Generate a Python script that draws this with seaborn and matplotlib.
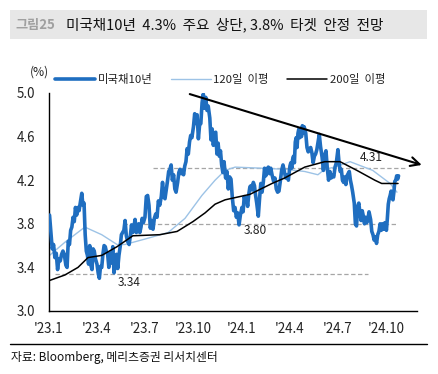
import numpy as np
import pandas as pd
import matplotlib
matplotlib.use("Agg")
import matplotlib.pyplot as plt
import matplotlib.dates as mdates
from matplotlib.lines import Line2D
from matplotlib.patches import Rectangle
import seaborn as sns

# ---------------- data ----------------
# US 10y yield (%), values per month, grouped by quarter
q2023_1 = [
    [3.88, 3.72, 3.57, 3.61, 3.49, 3.53, 3.38, 3.48, 3.46, 3.52, 3.55, 3.52],
    [3.42, 3.40, 3.64, 3.61, 3.74, 3.77, 3.86, 3.82, 3.95, 3.88, 3.95, 3.92],
    [4.01, 4.08, 3.97, 3.99, 3.70, 3.55, 3.51, 3.43, 3.60, 3.42, 3.38, 3.57, 3.55, 3.48],
]
q2023_2 = [
    [3.43, 3.35, 3.30, 3.41, 3.40, 3.52, 3.60, 3.59, 3.54, 3.52, 3.40, 3.53, 3.44],
    [3.59, 3.35, 3.44, 3.52, 3.39, 3.51, 3.59, 3.70, 3.72, 3.74, 3.83, 3.69, 3.64],
    [3.61, 3.69, 3.79, 3.72, 3.77, 3.84, 3.72, 3.73, 3.80, 3.72, 3.77, 3.85, 3.81],
]
q2023_3 = [
    [3.86, 4.05, 4.06, 3.97, 3.76, 3.83, 3.75, 3.85, 3.89, 3.86, 4.01, 3.97],
    [4.05, 4.18, 4.05, 4.03, 4.11, 4.19, 4.28, 4.30, 4.34, 4.20, 4.25, 4.12, 4.09],
    [4.18, 4.27, 4.30, 4.26, 4.29, 4.25, 4.33, 4.37, 4.49, 4.44, 4.55, 4.61, 4.59],
]
q2023_4 = [
    [4.69, 4.81, 4.72, 4.80, 4.58, 4.71, 4.72, 4.91, 4.99, 4.86, 4.96, 4.84, 4.88],
    [4.77, 4.57, 4.67, 4.52, 4.63, 4.64, 4.44, 4.54, 4.42, 4.47, 4.34, 4.27, 4.37],
    [4.22, 4.28, 4.12, 4.23, 4.21, 4.04, 3.92, 3.95, 3.86, 3.90, 3.79, 3.88],
]
q2024_1 = [
    [3.95, 3.91, 4.05, 4.01, 4.04, 3.96, 4.07, 4.14, 4.15, 4.11, 4.18, 4.15, 4.06, 3.99],
    [3.87, 4.03, 4.17, 4.09, 4.18, 4.31, 4.24, 4.30, 4.32, 4.26, 4.31, 4.25],
    [4.19, 4.22, 4.12, 4.09, 4.10, 4.19, 4.29, 4.34, 4.28, 4.22, 4.25, 4.20],
]
q2024_2 = [
    [4.33, 4.36, 4.31, 4.39, 4.42, 4.36, 4.55, 4.59, 4.50, 4.63, 4.67, 4.59, 4.64, 4.60, 4.70, 4.63, 4.69],
    [4.63, 4.50, 4.46, 4.49, 4.50, 4.45, 4.36, 4.42, 4.44, 4.48, 4.55, 4.62, 4.51],
    [4.41, 4.29, 4.43, 4.47, 4.31, 4.20, 4.28, 4.22, 4.25, 4.23, 4.32, 4.36],
]
q2024_3 = [
    [4.48, 4.36, 4.28, 4.30, 4.20, 4.18, 4.23, 4.16, 4.24, 4.26, 4.28, 4.20, 4.15, 4.09],
    [3.99, 3.80, 3.78, 3.96, 3.99, 3.90, 3.83, 3.92, 3.87, 3.80, 3.86, 3.81, 3.84, 3.91],
    [3.84, 3.73, 3.70, 3.65, 3.68, 3.62, 3.70, 3.73, 3.80, 3.74, 3.80, 3.75, 3.81],
]
q2024_4 = [
    [3.74, 3.85, 3.98, 4.03, 4.06, 4.10, 4.04, 4.02, 4.09, 4.19, 4.20, 4.24, 4.21, 4.24],
]

# 120-day moving average (read points)
ma120_dates = ["2023-01-02", "2023-01-31", "2023-03-10", "2023-04-11", "2023-05-10",
               "2023-05-25", "2023-07-02", "2023-08-15", "2023-09-16", "2023-10-18",
               "2023-11-12", "2023-12-01", "2023-12-20", "2024-02-09", "2024-03-23",
               "2024-04-30", "2024-05-25", "2024-06-07", "2024-06-26", "2024-07-25",
               "2024-09-06", "2024-10-09", "2024-10-22"]
ma120_vals = [3.51, 3.63, 3.77, 3.70, 3.61,
              3.61, 3.66, 3.72, 3.85, 4.06,
              4.20, 4.29, 4.32, 4.31, 4.30,
              4.28, 4.25, 4.30, 4.32, 4.37,
              4.29, 4.17, 4.09]

# 200-day moving average (read points)
ma200_dates = ["2023-01-02", "2023-01-31", "2023-02-25", "2023-03-16", "2023-04-11",
               "2023-05-10", "2023-06-09", "2023-07-30", "2023-09-01", "2023-10-01",
               "2023-10-24", "2023-11-12", "2023-12-01", "2024-01-17", "2024-02-28",
               "2024-03-23", "2024-04-30", "2024-06-07", "2024-07-06", "2024-08-07",
               "2024-09-10", "2024-09-23", "2024-10-24"]
ma200_vals = [3.28, 3.33, 3.40, 3.49, 3.51,
              3.59, 3.69, 3.70, 3.73, 3.82,
              3.90, 3.98, 4.02, 4.07, 4.17,
              4.22, 4.32, 4.37, 4.37, 4.29,
              4.20, 4.17, 4.17]

ref_levels = [4.31, 3.80, 3.34]
ref_labels = ["4.31", "3.80", "3.34"]
trend_start = ("2023-09-25", 4.99)
trend_end = ("2024-12-08", 4.34)

series_names = ["미국채10년", "120일  이평", "200일  이평"]
x_ticks = ["2023-01-01", "2023-04-01", "2023-07-01", "2023-10-01",
           "2024-01-01", "2024-04-01", "2024-07-01", "2024-10-01"]
x_tick_labels = ["'23.1", "'23.4", "'23.7", "'23.10", "'24.1", "'24.4", "'24.7", "'24.10"]
y_ticks = [3.0, 3.4, 3.8, 4.2, 4.6, 5.0]

# ---------------- build frames ----------------
def quarter_frame(year, q, months, last_end=None):
    rows = []
    for i, vals in enumerate(months):
        m = 3 * (q - 1) + 1 + i
        start = pd.Timestamp(year, m, 1) + pd.Timedelta(days=1)
        end = pd.Timestamp(year, m, 1) + pd.offsets.MonthEnd(0) - pd.Timedelta(days=1)
        if last_end is not None and i == len(months) - 1:
            end = pd.Timestamp(last_end)
        ds = pd.date_range(start, end, periods=len(vals))
        rows += list(zip(ds, vals))
    return rows

rows = []
rows += quarter_frame(2023, 1, q2023_1)
rows += quarter_frame(2023, 2, q2023_2)
rows += quarter_frame(2023, 3, q2023_3)
rows += quarter_frame(2023, 4, q2023_4)
rows += quarter_frame(2024, 1, q2024_1)
rows += quarter_frame(2024, 2, q2024_2)
rows += quarter_frame(2024, 3, q2024_3)
rows += quarter_frame(2024, 4, q2024_4, last_end="2024-10-25")
df_main = pd.DataFrame(rows, columns=["date", "val"])
df_120 = pd.DataFrame({"date": pd.to_datetime(ma120_dates), "val": ma120_vals})
df_200 = pd.DataFrame({"date": pd.to_datetime(ma200_dates), "val": ma200_vals})

# ---------------- style ----------------
sns.set_style("white")
plt.rcParams["font.family"] = ["Noto Sans CJK KR", "DejaVu Sans"]
plt.rcParams["axes.unicode_minus"] = False

W, H = 438, 374
fig = plt.figure(figsize=(W / 100, H / 100), dpi=100)
fig.patch.set_facecolor("white")

def fx(px):
    return px / W

def fy(py):
    return 1 - py / H

ax = fig.add_axes([fx(49), fy(311), fx(417) - fx(49), fy(93) - fy(311)])

BLUE = "#1F6EC0"
LBLUE = "#9DC3E6"

# dashed reference lines
ref_spans = [("2023-07-17", "2024-11-10"), ("2023-05-21", "2024-10-24"), ("2023-01-12", "2024-08-28")]
ref_text_pos = [("2024-09-04", 4.41), ("2024-01-28", 3.735), ("2023-06-02", 3.265)]
for lv, (a, b), lab, (tx, ty) in zip(ref_levels, ref_spans, ref_labels, ref_text_pos):
    ax.plot([pd.Timestamp(a), pd.Timestamp(b)], [lv, lv], color="#A6A6A6",
            lw=0.9, ls=(0, (3.5, 2)), zorder=1, clip_on=False)
    ax.text(pd.Timestamp(tx), ty, lab, ha="center", va="center", fontsize=8.6,
            color="#222222", zorder=6)

sns.lineplot(data=df_120, x="date", y="val", ax=ax, color=LBLUE, lw=1.0,
             label=series_names[1], zorder=2)
sns.lineplot(data=df_main, x="date", y="val", ax=ax, color=BLUE, lw=2.6,
             label=series_names[0], zorder=3)
sns.lineplot(data=df_200, x="date", y="val", ax=ax, color="black", lw=1.1,
             label=series_names[2], zorder=4)

# trend arrow
ax.annotate("", xy=(pd.Timestamp(trend_end[0]), trend_end[1]),
            xytext=(pd.Timestamp(trend_start[0]), trend_start[1]),
            arrowprops=dict(arrowstyle="->", color="black", lw=1.5, mutation_scale=16,
                            shrinkA=0, shrinkB=0),
            annotation_clip=False, zorder=7)

ax.set_xlim(pd.Timestamp("2023-01-01"), pd.Timestamp("2024-11-29"))
ax.set_ylim(3.0, 5.0)
ax.set_xticks(pd.to_datetime(x_ticks))
ax.set_xticklabels(x_tick_labels)
ax.set_yticks(y_ticks)
ax.set_yticklabels([f"{v:.1f}" for v in y_ticks])
ax.set_xlabel("")
ax.set_ylabel("")
for s in ["top", "right"]:
    ax.spines[s].set_visible(False)
for s in ["left", "bottom"]:
    ax.spines[s].set_color("black")
    ax.spines[s].set_linewidth(1.0)
ax.tick_params(axis="both", direction="out", length=3.6, width=1.0, color="black",
               labelsize=9.6, labelcolor="#222222")
ax.tick_params(axis="y", pad=6)
ax.tick_params(axis="x", pad=4)
ax.grid(False)

# legend
handles, labels = ax.get_legend_handles_labels()
order = [labels.index(n) for n in series_names]
leg = ax.legend([handles[i] for i in order], [labels[i] for i in order],
                ncol=3, loc="center left", bbox_to_anchor=(fx(55), fy(79)),
                bbox_transform=fig.transFigure, frameon=False, fontsize=8.2,
                handlelength=3.5, handletextpad=0.25, columnspacing=1.6,
                borderpad=0, borderaxespad=0)
for t in leg.get_texts():
    t.set_color("#222222")

fig.text(fx(30), fy(72), "(%)", fontsize=8.6, ha="left", va="center", color="#222222")

# title bar
fig.patches.append(Rectangle((fx(10), fy(39)), fx(427) - fx(10), fy(10) - fy(39),
                             transform=fig.transFigure, facecolor="#E7E7E7",
                             edgecolor="none", zorder=0))
fig.text(fx(15), fy(25), "그림25", fontsize=9.5, fontweight="bold", color="#A0A0A0",
         ha="left", va="center")
fig.text(fx(66), fy(25), "미국채10년  4.3%  주요  상단, 3.8%  타겟  안정  전망",
         fontsize=10.5, color="#111111", ha="left", va="center")

# bottom rule + source
fig.lines.append(Line2D([fx(10), fx(427)], [fy(344), fy(344)], transform=fig.transFigure,
                        color="black", lw=1.0))
fig.text(fx(11), fy(357), "자료: Bloomberg, 메리츠증권 리서치센터", fontsize=8.5,
         color="#111111", ha="left", va="center")

fig.savefig("out.png", dpi=100)
